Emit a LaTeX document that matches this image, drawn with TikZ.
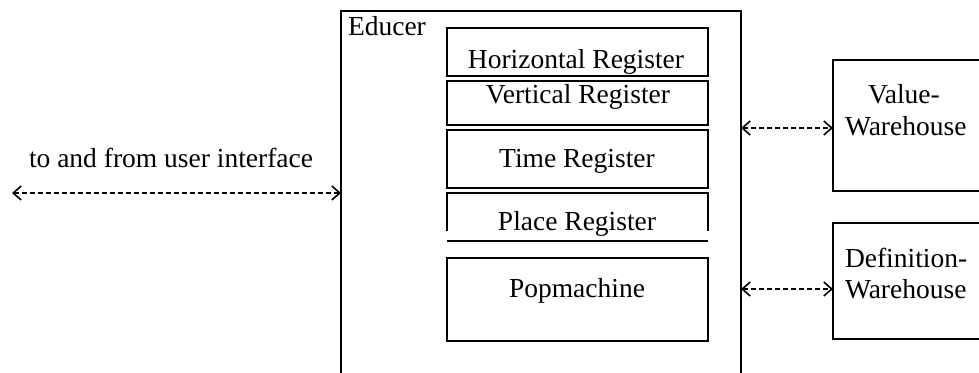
\documentclass[tikz,border=0pt]{standalone}
\usepackage{fontspec}
\setmainfont{Liberation Serif}
\usetikzlibrary{arrows.meta}
\begin{document}
\begin{tikzpicture}[x=1pt,y=-1pt,
  line width=1.4pt,
  every node/.style={font=\fontsize{27.5}{33}\selectfont, inner sep=0pt, outer sep=0pt},
  box/.style={draw, line width=1.4pt, rectangle},
  lbl/.style={anchor=base},
  lblw/.style={anchor=base west},
  link/.style={line width=1.4pt, dash pattern=on 5pt off 3pt,
    arrows={Straight Barb[length=8pt,width=14pt,line width=1.6pt]-Straight Barb[length=8pt,width=14pt,line width=1.6pt]}}
]
\useasboundingbox (0,0) rectangle (979,372);
\clip (0,0) rectangle (979,372);
\fill[white] (0,0) rectangle (979,372);

% Educer container
\node[box, minimum width=400pt, minimum height=369pt] (educer) at (541,195.5) {};
\node[lblw] (educerlbl) at (348,35) {Educer};

% registers
\node[box, minimum width=261pt, minimum height=48pt] (hreg) at (577.5,52) {};
\node[lbl] (hregt) at (576,68) {Horizontal Register};
\node[box, minimum width=261pt, minimum height=44pt] (vreg) at (577.5,103) {};
\node[lbl] (vregt) at (578,103) {Vertical Register};
\node[box, minimum width=261pt, minimum height=58pt] (treg) at (577.5,159) {};
\node[lbl] (tregt) at (577,167) {Time Register};
\coordinate (pbl) at (447,231);
\coordinate (ptl) at (447,193);
\coordinate (ptr) at (708,193);
\coordinate (pbr) at (708,231);
\draw (pbl) -- (ptl) -- (ptr) -- (pbr);
\node[lbl] (pregt) at (577,230) {Place Register};
\coordinate (sepl) at (447,241);
\coordinate (sepr) at (708,241);
\draw (sepl) -- (sepr);
\node[box, minimum width=261pt, minimum height=83pt] (pop) at (577.5,299.5) {};
\node[lbl] (popt) at (577,297) {Popmachine};

% warehouses
\node[box, minimum width=160pt, minimum height=131pt] (value) at (913,125.5) {};
\node[lblw] (valuet1) at (868,103) {Value-};
\node[lblw] (valuet2) at (845,135) {Warehouse};
\node[box, minimum width=160pt, minimum height=116pt] (defn) at (913,281) {};
\node[lblw] (defnt1) at (845,267) {Definition-};
\node[lblw] (defnt2) at (845,298) {Warehouse};

% user interface
\node[lblw] (uit) at (29,167) {to and from user interface};
\coordinate (ui) at (12,193);

% connectors
\draw[link] (ui) -- (educer.west |- ui);
\draw[link] (educer.east |- 0,128) -- (value.west |- 0,128);
\draw[link] (educer.east |- 0,289) -- (defn.west |- 0,289);
\end{tikzpicture}
\end{document}
